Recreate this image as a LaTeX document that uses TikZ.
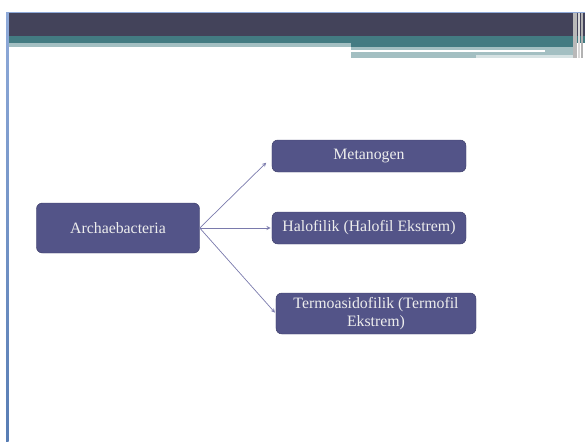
\documentclass[tikz,border=0pt]{standalone}
\usepackage{fontspec}
\setmainfont{Liberation Serif}
\definecolor{boxfill}{RGB}{83,84,136}
\definecolor{boxline}{RGB}{64,65,108}
\definecolor{arrowcol}{RGB}{122,122,172}
\definecolor{headdark}{RGB}{67,67,90}
\definecolor{headteal}{RGB}{67,123,130}
\definecolor{headlight}{RGB}{163,191,194}
\definecolor{frametop}{RGB}{143,170,217}
\definecolor{framebot}{RGB}{88,125,180}
\begin{document}
\begin{tikzpicture}[
    x=0.03cm, y=-0.03cm,
    >=stealth,
    every node/.style={font=\fontsize{13.5}{15.5}\selectfont},
    group/.style={
        draw=boxline,
        fill=boxfill,
        text=white!93!black,
        rounded corners=5pt,
        align=center,
        inner sep=2pt
    },
    branch/.style={
        ->,
        draw=arrowcol,
        line width=0.6pt,
        shorten >=1pt
    }
]

    \useasboundingbox (0,0) rectangle (585,441);

    % Header bands
    \fill[headdark] (7,13) rectangle (585,36);
    \fill[headteal] (7,36) rectangle (585,43);
    \fill[headlight] (7,43) rectangle (351,47);
    \fill[headteal] (351,43) rectangle (575,47);
    \fill[headlight] (351,47) rectangle (575,58);
    \fill[white] (351,49.6) rectangle (545,51.5);
    \fill[white!55!headlight] (476,55) rectangle (575,58);
    \fill[gray!55] (573,13) rectangle (577,58);
    \fill[gray!30] (578,13) rectangle (580,58);
    \fill[gray!60] (581,13) rectangle (583,58);

    % Frame on top and left
    \draw[frametop, line width=1pt] (7,12.5) -- (585,12.5);
    \shade[top color=frametop, bottom color=framebot] (6,12) rectangle (8.7,441);

    % Groups
    \node[
        group,
        minimum width=4.89cm,
        minimum height=1.5cm
    ] (arch) at (118,228) {Archaebacteria};

    \node[
        group,
        minimum width=5.82cm,
        minimum height=0.96cm
    ] (meta) at (369,156) {Metanogen};

    \node[
        group,
        minimum width=5.82cm,
        minimum height=0.96cm
    ] (halo) at (369,228) {Halofilik (Halofil Ekstrem)};

    \node[
        group,
        minimum width=6cm,
        minimum height=1.23cm
    ] (termo) at (376,313.5) {Termoasidofilik (Termofil\\Ekstrem)};

    % Arrows from the domain to its groups
    \draw[branch] (arch.east) -- ([xshift=-4pt,yshift=-5pt]meta.west);
    \draw[branch] (arch.east) -- (halo.west);
    \draw[branch] (arch.east) -- (termo.west);

\end{tikzpicture}
\end{document}
